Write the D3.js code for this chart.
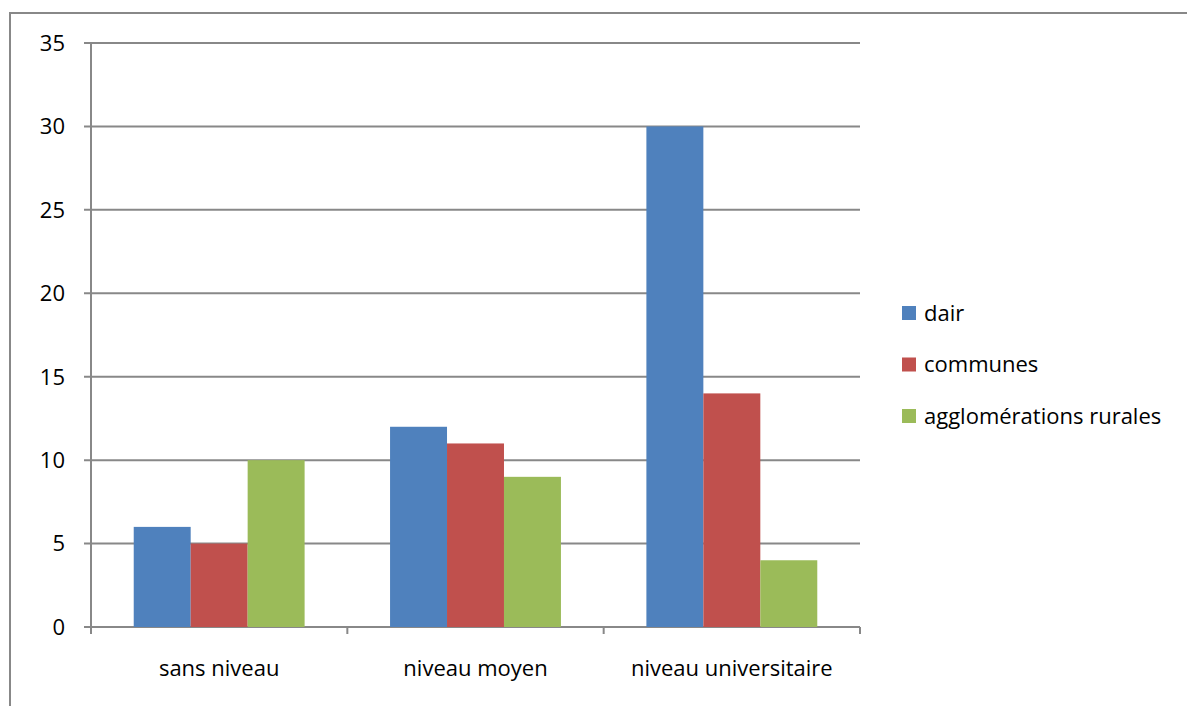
<!DOCTYPE html>
<html>
<head>
<meta charset="utf-8">
<script src="https://cdn.jsdelivr.net/npm/d3@7"></script>
<style>
  body { margin: 0; background: #fff; }
  text { font-family: "Open Sans", "Noto Sans", sans-serif; fill: #000; }
</style>
</head>
<body>
<script>
var categories = ['sans niveau', 'niveau moyen', 'niveau universitaire'];
var seriesNames = ['dair', 'communes', 'agglomérations rurales'];
var dair = [6, 12, 30];
var communes = [5, 11, 14];
var rurales = [10, 9, 4];
var yTicks = [0, 5, 10, 15, 20, 25, 30, 35];
var colors = ['#4F81BD', '#C0504D', '#9BBB59'];

var width = 1187, height = 706;
var plotLeft = 91, plotRight = 860, plotTop = 43, plotBottom = 627;
var fs = '22px';

var svg = d3.select('body').append('svg').attr('width', width).attr('height', height);

// outer frame (only top and left visible)
svg.append('path').attr('d', 'M10,' + height + 'V13H' + width)
  .attr('fill', 'none').attr('stroke', '#888').attr('stroke-width', 2);

var x = d3.scaleBand().domain(categories).range([plotLeft, plotRight]).paddingInner(0).paddingOuter(0);
var y = d3.scaleLinear().domain([0, 35]).range([plotBottom, plotTop]);

// gridlines
svg.append('g').selectAll('line').data(yTicks).enter().append('line')
  .attr('x1', plotLeft - 7).attr('x2', plotRight)
  .attr('y1', function(d){ return y(d); }).attr('y2', function(d){ return y(d); })
  .attr('stroke', '#888').attr('stroke-width', 2);

// y labels
svg.append('g').selectAll('text').data(yTicks).enter().append('text')
  .attr('x', 65).attr('y', function(d){ return y(d); })
  .attr('dy', '0.36em').attr('text-anchor', 'end')
  .style('font-size', fs).text(function(d){ return d; });

var series = [dair, communes, rurales];
var barW = x.bandwidth() / 4.5;
var inner = d3.scaleBand().domain(d3.range(3)).range([0, barW * 3]);

series.forEach(function(vals, si){
  svg.append('g').selectAll('rect').data(vals).enter().append('rect')
    .attr('x', function(d, i){ return x(categories[i]) + barW * 0.75 + inner(si); })
    .attr('y', function(d){ return y(d); })
    .attr('width', inner.bandwidth())
    .attr('height', function(d){ return y(0) - y(d); })
    .attr('fill', colors[si]);
});

// axes lines
svg.append('line').attr('x1', plotLeft).attr('x2', plotLeft).attr('y1', plotTop).attr('y2', plotBottom + 7)
  .attr('stroke', '#888').attr('stroke-width', 2);
var xt = [plotLeft].concat(categories.map(function(c){ return x(c) + x.bandwidth(); }));
svg.append('g').selectAll('line').data(xt).enter().append('line')
  .attr('x1', function(d){ return d; }).attr('x2', function(d){ return d; })
  .attr('y1', plotBottom).attr('y2', plotBottom + 7)
  .attr('stroke', '#888').attr('stroke-width', 2);

// category labels
svg.append('g').selectAll('text').data(categories).enter().append('text')
  .attr('x', function(d){ return x(d) + x.bandwidth() / 2; })
  .attr('y', 676).attr('text-anchor', 'middle')
  .style('font-size', fs).text(function(d){ return d; });

// legend
var lg = svg.append('g').selectAll('g').data(seriesNames).enter().append('g')
  .attr('transform', function(d, i){ return 'translate(902,' + (313 + i * 51.5) + ')'; });
lg.append('rect').attr('x', 0).attr('y', -7).attr('width', 14).attr('height', 14)
  .attr('fill', function(d, i){ return colors[i]; });
lg.append('text').attr('x', 22).attr('dy', '0.36em')
  .style('font-size', fs).text(function(d){ return d; });
</script>
</body>
</html>
